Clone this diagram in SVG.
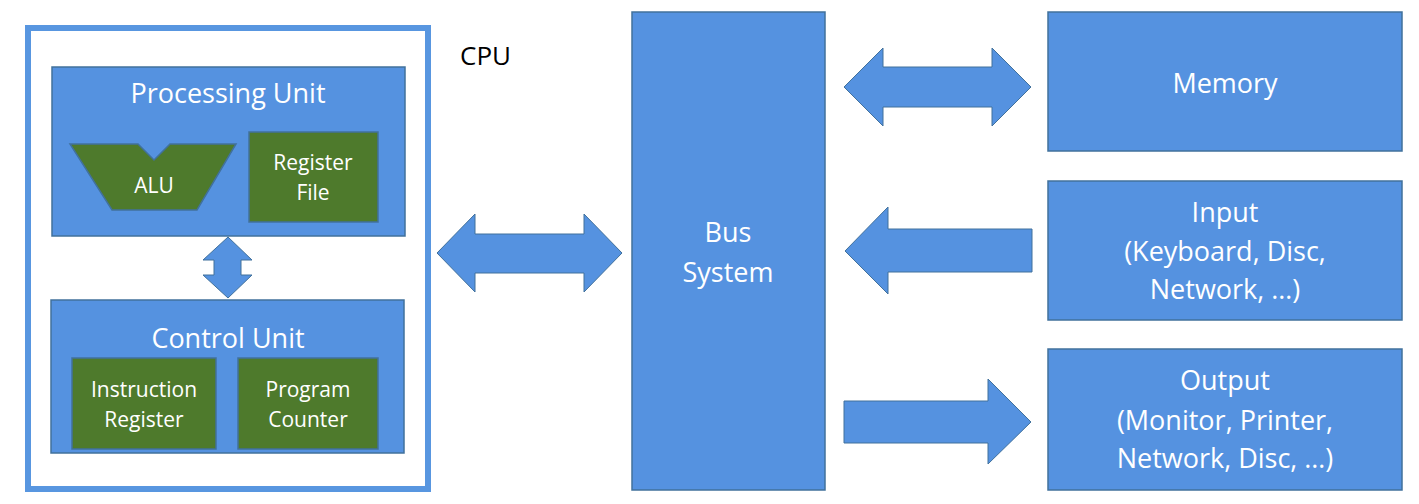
<svg xmlns="http://www.w3.org/2000/svg" width="1419" height="504" viewBox="0 0 1419 504">
<style>
.blk{fill:#5592E0;stroke:#41719C;stroke-width:1.5}
.grn{fill:#4E7A2C;stroke:#41719C;stroke-width:1.5}
.arr{fill:#5592E0;stroke:#41719C;stroke-width:1}
text{font-family:"Open Sans","Noto Sans","DejaVu Sans",sans-serif;fill:#FFFFFF;text-anchor:middle}
.big{font-size:27px}
.sm{font-size:21px}
</style>
<rect width="1419" height="504" fill="#FFFFFF"/>
<g id="cpu">
<rect x="28" y="28" width="400" height="461" fill="none" stroke="#5896E0" stroke-width="6"/>
<text x="460" y="65" style="font-size:26px;fill:#000000;text-anchor:start">CPU</text>
</g>
<g id="processing-unit">
<rect class="blk" x="52" y="67" width="353" height="169"/>
<text class="big" x="228" y="103">Processing Unit</text>
</g>
<g id="alu">
<polygon class="grn" points="70,144 138,144 154,160 170,144 236,144 197,210 112,210"/>
<text class="sm" x="154" y="193">ALU</text>
</g>
<g id="register-file">
<rect class="grn" x="249" y="132" width="129" height="90"/>
<text class="sm" x="313" y="170">Register</text>
<text class="sm" x="313" y="200">File</text>
</g>
<g id="control-unit">
<rect class="blk" x="51" y="300" width="353" height="153"/>
<text class="big" x="228" y="348">Control Unit</text>
</g>
<g id="instruction-register">
<rect class="grn" x="72" y="358" width="144" height="91"/>
<text class="sm" x="144" y="397">Instruction</text>
<text class="sm" x="144" y="427">Register</text>
</g>
<g id="program-counter">
<rect class="grn" x="238" y="358" width="140" height="91"/>
<text class="sm" x="308" y="397">Program</text>
<text class="sm" x="308" y="427">Counter</text>
</g>
<g id="bus-system">
<rect class="blk" x="632" y="12" width="193" height="478"/>
<text class="big" x="728" y="242">Bus</text>
<text class="big" x="728" y="282">System</text>
</g>
<g id="memory">
<rect class="blk" x="1048" y="12" width="354" height="139"/>
<text class="big" x="1225" y="93">Memory</text>
</g>
<g id="input">
<rect class="blk" x="1048" y="181" width="354" height="139"/>
<text class="big" x="1225" y="222">Input</text>
<text class="big" x="1225" y="261">(Keyboard, Disc,</text>
<text class="big" x="1225" y="299">Network, …)</text>
</g>
<g id="output">
<rect class="blk" x="1048" y="349" width="354" height="141"/>
<text class="big" x="1225" y="390">Output</text>
<text class="big" x="1225" y="430">(Monitor, Printer,</text>
<text class="big" x="1225" y="468">Network, Disc, …)</text>
</g>
<g id="connectors">
<polygon class="arr" points="228,237 252,260 241,260 241,275 252,275 228,298 203,275 214,275 214,260 203,260"/>
<polygon class="arr" points="437,253 475,214 475,234 584,234 584,214 622,253 584,292 584,273 475,273 475,292"/>
<polygon class="arr" points="844,87 883,48 883,67 992,67 992,48 1031,87 992,126 992,107 883,107 883,126"/>
<polygon class="arr" points="845,251 888,207 888,229 1032,229 1032,272 888,272 888,294"/>
<polygon class="arr" points="844,401 988,401 988,379 1031,422 988,464 988,443 844,443"/>
</g>
</svg>
